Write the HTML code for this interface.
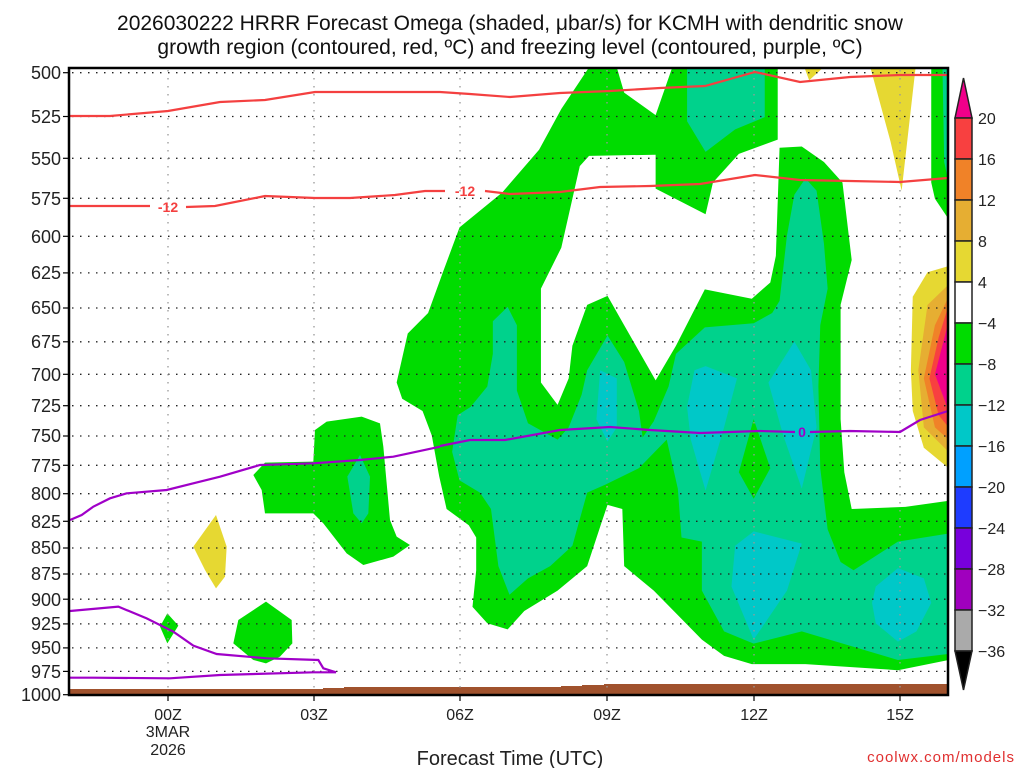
<!DOCTYPE html>
<html><head><meta charset="utf-8"><style>
html,body{margin:0;padding:0;background:#fff;}
svg{display:block;font-family:"Liberation Sans",sans-serif;}
</style></head><body>
<svg width="1024" height="768" viewBox="0 0 1024 768" xmlns="http://www.w3.org/2000/svg">
<rect width="1024" height="768" fill="#fff"/>
<text x="510" y="30" font-size="21" text-anchor="middle" fill="#111">2026030222 HRRR Forecast Omega (shaded, μbar/s) for KCMH with dendritic snow</text>
<text x="510" y="54" font-size="21" text-anchor="middle" fill="#111">growth region (contoured, red, ºC) and freezing level (contoured, purple, ºC)</text>

<defs><clipPath id="cp"><rect x="69" y="68" width="879" height="627"/></clipPath></defs>
<g clip-path="url(#cp)">
<g transform="translate(380 60) scale(0.36996 0.40816)">
<polygon fill="#00dc00" points="565,18 640,18 660,80 745,135 790,18 1075,18 1075,195 970,230 900,300 880,378 745,315 745,232 565,235 540,260 490,460 435,560 435,790 480,845 510,780 520,700 560,600 615,578 660,650 745,785 800,700 878,562 1005,585 1055,545 1070,480 1080,215 1140,212 1200,250 1250,300 1275,490 1245,600 1245,880 1255,1010 1275,1100 1420,1095 1537,1080 1537,1470 1400,1495 1150,1480 1005,1480 930,1460 870,1420 740,1300 660,1240 655,1100 615,1090 600,1130 560,1240 480,1300 390,1350 345,1395 290,1380 250,1340 260,1250 260,1170 240,1140 180,1100 160,1020 140,920 115,860 60,830 45,790 75,670 130,620 170,520 215,410 330,325 430,220 490,120"/>
<polygon fill="#00dc00" points="1490,0 1537,0 1537,390 1500,340 1490,300"/>
<polygon fill="#00d28c" points="1520,0 1537,0 1537,300 1525,250"/>
<polygon fill="#00d28c" points="830,0 1040,0 1040,140 960,170 880,225 830,150"/>
<polygon fill="#00d28c" points="305,640 345,605 370,650 370,810 400,890 480,930 510,900 545,820 560,760 615,675 660,740 700,860 710,925 740,885 780,800 800,720 878,655 1010,645 1060,620 1080,590 1100,430 1120,330 1150,290 1180,320 1200,450 1210,560 1190,650 1185,800 1190,1000 1210,1150 1245,1230 1280,1250 1400,1180 1537,1160 1537,1455 1400,1470 1140,1400 1010,1430 930,1400 870,1300 870,1180 815,1170 805,1050 775,930 700,1000 610,1040 560,1060 520,1190 460,1240 400,1270 350,1310 320,1240 300,1100 270,1060 215,1030 195,960 210,870 245,850 290,800 305,720"/>
<polygon fill="#00dc00" points="1010,880 1055,1000 1010,1075 970,1010"/>
<g fill="#00c8c8">
<polygon points="595,760 640,780 640,900 615,935 585,880"/>
<polygon points="850,760 880,750 965,780 930,900 880,1055 840,930 830,850"/>
<polygon points="1050,790 1120,690 1165,760 1180,900 1140,1050 1090,920"/>
<polygon points="960,1190 1010,1155 1140,1185 1100,1300 1010,1420 950,1290"/>
<polygon points="1340,1290 1400,1245 1470,1270 1490,1330 1450,1400 1400,1425 1340,1380 1330,1330"/>
</g>
<polygon fill="#e6d832" points="1140,0 1220,0 1160,50"/>
<polygon fill="#e6d832" points="1320,0 1450,0 1410,320 1380,200"/>
<polygon fill="#e6d832" points="1537,505 1480,520 1440,580 1435,760 1440,860 1470,950 1537,1000"/>
<polygon fill="#e6ae32" points="1537,550 1480,600 1455,760 1470,900 1537,960"/>
<polygon fill="#f08228" points="1537,580 1500,650 1470,780 1500,900 1537,930"/>
<polygon fill="#f84040" points="1537,600 1510,680 1485,780 1510,870 1537,900"/>
<polygon fill="#f0008a" points="1537,640 1500,770 1537,860"/>
</g>
<g transform="translate(60 380) scale(0.33333)">
<polygon fill="#00dc00" points="580,285 615,248 760,245 765,150 800,125 905,110 960,130 970,200 990,420 1010,470 1050,495 1000,530 910,555 860,520 790,430 760,400 615,400 605,330"/>
<polygon fill="#00d28c" points="900,225 930,290 925,400 905,430 880,400 862,290"/>
<polygon fill="#e6d832" points="400,500 468,405 500,500 495,590 468,625 435,570"/>
<polygon fill="#00dc00" points="300,740 322,700 355,737 322,790"/>
<polygon fill="#00dc00" points="520,790 535,720 618,665 695,720 697,790 660,830 618,850 580,840"/>
</g>
<polygon fill="#a0522d" points="69,689 323,689 323,688 344,688 344,687 561,687 561,686 582,686 582,685 604,685 604,684 948,684 948,695 69,695"/>
</g>

<g stroke="#222" stroke-width="1.3" stroke-dasharray="1.5,6.5">
<line x1="72" x2="948" y1="72.7" y2="72.7"/><line x1="72" x2="948" y1="116.5" y2="116.5"/><line x1="72" x2="948" y1="158.3" y2="158.3"/><line x1="72" x2="948" y1="198.3" y2="198.3"/><line x1="72" x2="948" y1="236.3" y2="236.3"/><line x1="72" x2="948" y1="272.9" y2="272.9"/><line x1="72" x2="948" y1="308" y2="308"/><line x1="72" x2="948" y1="341.8" y2="341.8"/><line x1="72" x2="948" y1="374.3" y2="374.3"/><line x1="72" x2="948" y1="405.7" y2="405.7"/><line x1="72" x2="948" y1="436" y2="436"/><line x1="72" x2="948" y1="465.3" y2="465.3"/><line x1="72" x2="948" y1="493.7" y2="493.7"/><line x1="72" x2="948" y1="521.3" y2="521.3"/><line x1="72" x2="948" y1="548" y2="548"/><line x1="72" x2="948" y1="574" y2="574"/><line x1="72" x2="948" y1="599.2" y2="599.2"/><line x1="72" x2="948" y1="623.9" y2="623.9"/><line x1="72" x2="948" y1="647.9" y2="647.9"/><line x1="72" x2="948" y1="671.4" y2="671.4"/>
</g>
<g stroke="#999" stroke-width="1.3" stroke-dasharray="1.5,6.5">
<line x1="168" x2="168" y1="70" y2="692"/><line x1="314" x2="314" y1="70" y2="692"/><line x1="460" x2="460" y1="70" y2="692"/><line x1="607" x2="607" y1="70" y2="692"/><line x1="754" x2="754" y1="70" y2="692"/><line x1="900" x2="900" y1="70" y2="692"/>
</g>

<g fill="none" stroke="#f44040" stroke-width="2.2">
<polyline points="69,116 110,116 168,111 220,102 265,100 315,92 360,92 400,92 440,92 470,94 510,97 560,93 610,91 660,88 705,86 755,72 800,82 850,77 900,75 948,75"/>
<polyline points="69,206 150,206"/>
<polyline points="186,207 215,206 265,196 315,198 350,198 395,195 425,191 445,191"/>
<polyline points="485,191 510,194 560,192 600,187 650,186 700,184 755,175 800,180 850,181 900,182 948,178"/>
</g>
<g fill="#f44040" font-size="14" font-weight="bold" text-anchor="middle">
<text x="168" y="212">-12</text><text x="465" y="196">-12</text>
</g>
<g fill="none" stroke="#a000c8" stroke-width="2.2">
<g transform="translate(60 380) scale(0.33333)" stroke-width="6.6">
<polyline points="30,420 65,405 100,380 150,355 200,340 320,330 400,310 480,290 600,255 760,250 900,240 1000,230 1140,200"/>
<polyline points="30,693 175,680 260,715 340,755 400,797 470,822 620,835 775,840 790,865 828,877 760,877 480,885 330,895 100,893 30,893"/>
</g>
<polyline points="440,446 470,440 505,440 560,430 610,427 650,430 700,433 760,431 795,432"/>
<polyline points="810,432 850,431 900,432 920,420 948,411"/>
</g>
<text x="802" y="437" fill="#a000c8" font-size="14" font-weight="bold" text-anchor="middle">0</text>

<rect x="69" y="68" width="879" height="627" fill="none" stroke="#000" stroke-width="2.5"/>
<g stroke="#000" stroke-width="1.2">
<line x1="63" x2="69" y1="72.7" y2="72.7"/><line x1="63" x2="69" y1="116.5" y2="116.5"/><line x1="63" x2="69" y1="158.3" y2="158.3"/><line x1="63" x2="69" y1="198.3" y2="198.3"/><line x1="63" x2="69" y1="236.3" y2="236.3"/><line x1="63" x2="69" y1="272.9" y2="272.9"/><line x1="63" x2="69" y1="308" y2="308"/><line x1="63" x2="69" y1="341.8" y2="341.8"/><line x1="63" x2="69" y1="374.3" y2="374.3"/><line x1="63" x2="69" y1="405.7" y2="405.7"/><line x1="63" x2="69" y1="436" y2="436"/><line x1="63" x2="69" y1="465.3" y2="465.3"/><line x1="63" x2="69" y1="493.7" y2="493.7"/><line x1="63" x2="69" y1="521.3" y2="521.3"/><line x1="63" x2="69" y1="548" y2="548"/><line x1="63" x2="69" y1="574" y2="574"/><line x1="63" x2="69" y1="599.2" y2="599.2"/><line x1="63" x2="69" y1="623.9" y2="623.9"/><line x1="63" x2="69" y1="647.9" y2="647.9"/><line x1="63" x2="69" y1="671.4" y2="671.4"/><line x1="63" x2="69" y1="694.7" y2="694.7"/>
<line x1="168" x2="168" y1="695" y2="701"/><line x1="314" x2="314" y1="695" y2="701"/><line x1="460" x2="460" y1="695" y2="701"/><line x1="607" x2="607" y1="695" y2="701"/><line x1="754" x2="754" y1="695" y2="701"/><line x1="900" x2="900" y1="695" y2="701"/>
</g>
<g font-size="18" fill="#222" text-anchor="end">
<text x="61" y="79">500</text><text x="61" y="123">525</text><text x="61" y="165">550</text><text x="61" y="205">575</text><text x="61" y="243">600</text><text x="61" y="279">625</text><text x="61" y="314">650</text><text x="61" y="348">675</text><text x="61" y="381">700</text><text x="61" y="412">725</text><text x="61" y="442">750</text><text x="61" y="472">775</text><text x="61" y="500">800</text><text x="61" y="528">825</text><text x="61" y="554">850</text><text x="61" y="580">875</text><text x="61" y="606">900</text><text x="61" y="630">925</text><text x="61" y="654">950</text><text x="61" y="678">975</text><text x="61" y="701">1000</text>
</g>
<g font-size="16" fill="#222" text-anchor="middle">
<text x="168" y="720">00Z</text><text x="168" y="737">3MAR</text><text x="168" y="755">2026</text>
<text x="314" y="720">03Z</text><text x="460" y="720">06Z</text><text x="607" y="720">09Z</text><text x="754" y="720">12Z</text><text x="900" y="720">15Z</text>
</g>
<text x="510" y="765" font-size="20" fill="#222" text-anchor="middle">Forecast Time (UTC)</text>
<text x="1015" y="762" font-size="15" fill="#e03030" text-anchor="end" letter-spacing="1">coolwx.com/models</text>

<g stroke="#222" stroke-width="1.5">
<polygon points="955,118 963.5,78 972,118" fill="#f0008a"/>
<rect x="955" y="118" width="17" height="41" fill="#f84040"/>
<rect x="955" y="159" width="17" height="41" fill="#f08228"/>
<rect x="955" y="200" width="17" height="41" fill="#e6ae32"/>
<rect x="955" y="241" width="17" height="41" fill="#e6d832"/>
<rect x="955" y="282" width="17" height="41" fill="#ffffff"/>
<rect x="955" y="323" width="17" height="41" fill="#00dc00"/>
<rect x="955" y="364" width="17" height="41" fill="#00d28c"/>
<rect x="955" y="405" width="17" height="41" fill="#00c8c8"/>
<rect x="955" y="446" width="17" height="41" fill="#00a0ff"/>
<rect x="955" y="487" width="17" height="41" fill="#1e3cff"/>
<rect x="955" y="528" width="17" height="41" fill="#7800dc"/>
<rect x="955" y="569" width="17" height="41" fill="#a000be"/>
<rect x="955" y="610" width="17" height="41" fill="#aaaaaa"/>
<polygon points="955,651 963.5,690 972,651" fill="#000"/>
</g>
<g font-size="16" fill="#222">
<text x="978" y="124">20</text><text x="978" y="165">16</text><text x="978" y="206">12</text><text x="978" y="247">8</text><text x="978" y="288">4</text><text x="978" y="329">−4</text><text x="978" y="370">−8</text><text x="978" y="411">−12</text><text x="978" y="452">−16</text><text x="978" y="493">−20</text><text x="978" y="534">−24</text><text x="978" y="575">−28</text><text x="978" y="616">−32</text><text x="978" y="657">−36</text>
</g>
</svg>
</body></html>
